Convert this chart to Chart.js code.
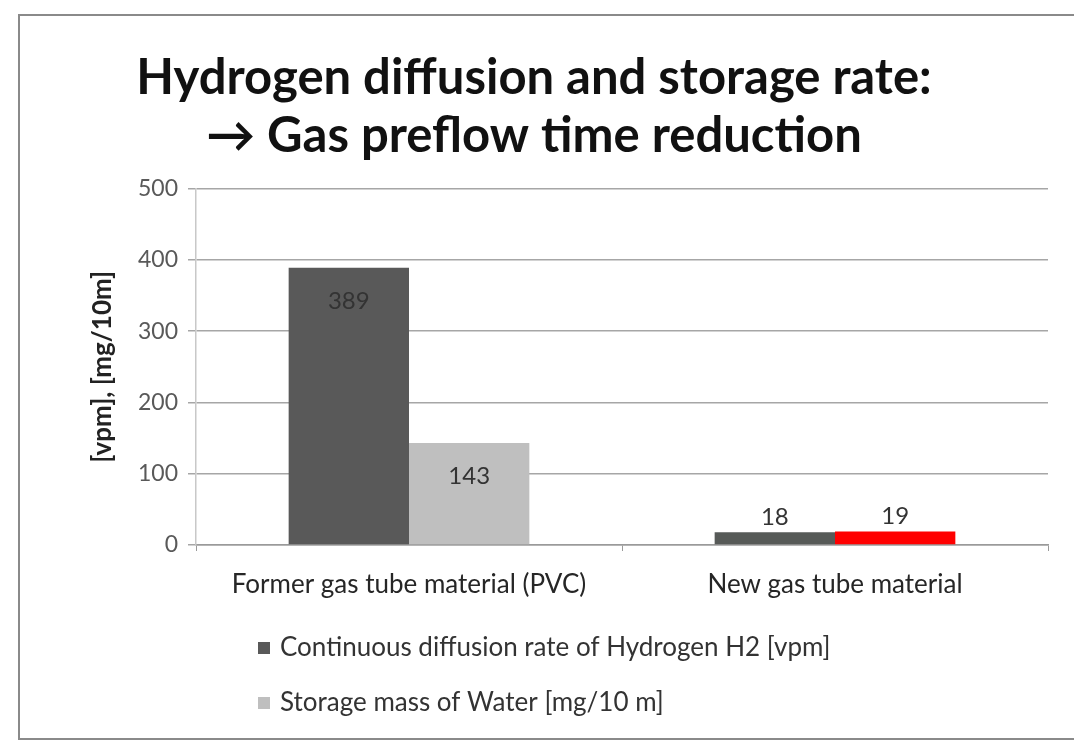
<!DOCTYPE html>
<html>
<head>
<meta charset="utf-8">
<script src="https://cdn.jsdelivr.net/npm/chart.js@4"></script>
<style>
    body { margin: 0; background: #fff; }
    .frame {
        position: absolute; left: 18px; top: 14px;
        width: 1054px; height: 722px;
        border-left: 2px solid #8a8a8a;
        border-top: 2px solid #8a8a8a;
        border-bottom: 2px solid #8a8a8a;
    }
</style>
</head>
<body>
<div class="frame"><canvas id="chart"></canvas></div>
<script>
const categories = ['Former gas tube material (PVC)', 'New gas tube material'];
const seriesNames = ['Continuous diffusion rate of Hydrogen H2 [vpm]', 'Storage mass of Water [mg/10 m]'];
const hydrogenRate = [389, 18];
const waterMass = [143, 19];
const yTicks = [0, 100, 200, 300, 400, 500];

const FONT = 'Lato';

// value labels: inside the top of tall bars, above short ones
const valueLabels = {
    id: 'valueLabels',
    afterDatasetsDraw(chart) {
        const ctx = chart.ctx;
        ctx.save();
        ctx.font = '24px ' + FONT;
        ctx.fillStyle = '#333';
        ctx.textAlign = 'center';
        ctx.textBaseline = 'middle';
        chart.data.datasets.forEach((ds, i) => {
            chart.getDatasetMeta(i).data.forEach((bar, j) => {
                const v = ds.data[j];
                const y = v > 50 ? bar.y + 33 : bar.y - 15;
                ctx.fillText(v, bar.x, y);
            });
        });
        ctx.restore();
    }
};

// legend stacked under the axis, left aligned
const stackedLegend = {
    id: 'stackedLegend',
    afterDraw(chart) {
        const ctx = chart.ctx;
        ctx.save();
        ctx.font = '26px ' + FONT;
        ctx.textBaseline = 'middle';
        chart.data.datasets.forEach((ds, i) => {
            const y = 632 + i * 55;
            ctx.fillStyle = ds.legendColor;
            ctx.fillRect(238, y - 6, 12, 12);
            ctx.fillStyle = '#333';
            ctx.fillText(ds.label, 260, y);
        });
        ctx.restore();
    }
};

const ctx = document.getElementById('chart').getContext('2d');
const myChart = new Chart(ctx, {
    type: 'bar',
    data: {
        labels: categories,
        datasets: [{
            label: seriesNames[0],
            data: hydrogenRate,
            backgroundColor: ['#595959', '#575a58'],
            legendColor: '#595959',
            barPercentage: 1,
            categoryPercentage: 0.565
        }, {
            label: seriesNames[1],
            data: waterMass,
            backgroundColor: ['#bfbfbf', '#ff0000'],
            legendColor: '#bfbfbf',
            barPercentage: 1,
            categoryPercentage: 0.565
        }]
    },
    options: {
        responsive: true,
        maintainAspectRatio: false,
        animation: false,
        layout: { padding: { left: 0, right: 26, top: 0, bottom: 123 } },
        plugins: {
            legend: { display: false },
            tooltip: { enabled: false },
            title: {
                display: true,
                text: ['Hydrogen diffusion and storage rate:', '\u2192 Gas preflow time reduction'],
                font: { family: FONT, size: 49, weight: 'bold', lineHeight: 1.17 },
                color: '#111',
                padding: { top: 34, bottom: 24 }
            }
        },
        scales: {
            x: {
                grid: { drawOnChartArea: false, drawTicks: true, tickLength: 6, color: '#9a9a9a' },
                border: { color: '#9a9a9a', width: 1.5 },
                ticks: { font: { family: FONT, size: 26 }, color: '#262626', padding: 18 },
                afterFit: s => { s.height = 70; }
            },
            y: {
                min: 0,
                max: 500,
                afterBuildTicks: s => { s.ticks = yTicks.map(v => ({ value: v })); },
                grid: { color: '#a6a6a6', lineWidth: 1.5, tickLength: 8 },
                border: { color: '#c8c8c8', width: 1.5 },
                ticks: { font: { family: FONT, size: 23 }, color: '#595959', padding: 10 },
                title: {
                    display: true,
                    text: '[vpm], [mg/10m]',
                    font: { family: FONT, size: 26, weight: 'bold' },
                    color: '#222',
                    padding: { top: 67 }
                },
                afterFit: s => { s.width = 176; }
            }
        }
    },
    plugins: [valueLabels, stackedLegend]
});
</script>
</body>
</html>
